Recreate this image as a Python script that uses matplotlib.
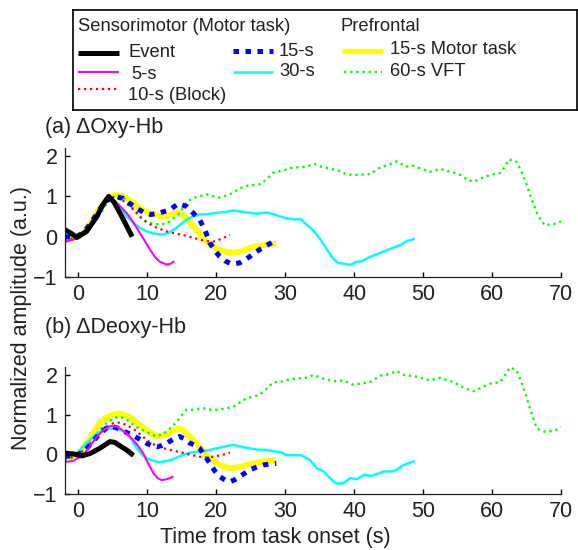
"""Normalized haemodynamic responses (Oxy-Hb / Deoxy-Hb) for several task lengths."""

import matplotlib
matplotlib.use("Agg")
import matplotlib.pyplot as plt

plt.rcParams["font.family"] = ["Liberation Sans", "DejaVu Sans"]

INK = "#231f20"

# ---- (a) dOxy-Hb --------------------------------------------------------
EVENT_A_T = [-2, -1, -0.2, 1.2, 2.7, 3.5, 4.4, 5.2, 6, 7, 7.8]
EVENT_A_V = [0.18, 0.08, -0.02, 0.13, 0.5, 0.78, 1.0, 0.85, 0.6, 0.27, 0.0]

S5_A_T = [-2, -0.7, 0.5, 1.5, 2.5, 3.5, 4.6, 5.8, 7, 8, 8.9, 9.7, 10.4, 11.1, 11.8, 12.8, 13.4, 13.9]
S5_A_V = [-0.13, -0.07, 0.05, 0.25, 0.5, 0.8, 0.98, 0.8, 0.59, 0.35, 0.1, -0.12, -0.32, -0.5, -0.62, -0.69, -0.67, -0.61]

S10_A_T = [-2, -1, 0, 1, 2, 3, 4, 5.2, 6.3, 7.5, 8.5, 9.4, 10.5, 11.4, 12.8, 14, 15.2, 16.5,
           17.6, 18.6, 19.6, 20.5, 21.3, 22]
S10_A_V = [-0.1, -0.06, 0.02, 0.15, 0.35, 0.6, 0.85, 1.0, 0.92, 0.75, 0.58, 0.42, 0.3, 0.22, 0.13,
           0.08, 0.04, -0.02, -0.07, -0.11, -0.12, -0.07, -0.01, 0.05]

S15_A_T = [-2, -1, 0, 1, 2, 3, 4, 5.3, 6.5, 7.5, 8.5, 9.5, 10.5, 11.8, 13.3, 14.5, 15.7, 16.7,
           17.6, 18.4, 19.1, 19.8, 20.5, 21.3, 22, 22.7, 23.4, 24.2, 24.9, 25.6, 26.3, 27.3, 28.3]
S15_A_V = [0.0, -0.02, 0.02, 0.15, 0.38, 0.65, 0.88, 1.0, 0.95, 0.82, 0.7, 0.6, 0.55, 0.59, 0.67,
           0.82, 0.75, 0.58, 0.42, 0.15, -0.16, -0.35, -0.49, -0.6, -0.66, -0.67, -0.65, -0.57,
           -0.49, -0.4, -0.32, -0.22, -0.12]

S30_A_T = [-2, -1, 0, 1, 2, 3, 4, 4.8, 5.8, 7, 8, 8.9, 9.9, 10.9, 12.3, 13.1, 13.8, 14.8, 15.7,
           16.6, 17.6, 18.8, 20, 21.2, 22.5, 23.7, 24.9, 26, 27.3, 28.5, 29.3, 30.2, 31.2, 32.2,
           33.1, 34.1, 34.9, 35.6, 36.3, 37, 37.7, 38.5, 39.4, 40.4, 41.1, 42.3, 43.8, 45.7,
           46.8, 47.6, 48.8]
S30_A_V = [0.05, 0.0, 0.0, 0.12, 0.35, 0.62, 0.85, 0.97, 0.8, 0.5, 0.35, 0.22, 0.13, 0.08, 0.05,
           0.1, 0.17, 0.3, 0.42, 0.5, 0.55, 0.56, 0.59, 0.61, 0.65, 0.62, 0.59, 0.57, 0.6, 0.55,
           0.5, 0.46, 0.43, 0.44, 0.3, 0.15, -0.02, -0.2, -0.38, -0.55, -0.65, -0.67, -0.7, -0.62,
           -0.61, -0.5, -0.4, -0.27, -0.2, -0.11, -0.05]

MOTOR_A_T = [-2, -1, 0, 1, 2, 3, 4, 5.3, 6.2, 7, 8, 8.9, 9.9, 10.9, 12.3, 13.3, 14.3, 15.2, 16,
             16.7, 17.6, 18.6, 19.5, 20.5, 21.5, 22.5, 23.7, 24.9, 26, 27.3, 28.7]
MOTOR_A_V = [0.0, -0.03, 0.0, 0.15, 0.4, 0.68, 0.9, 1.04, 1.02, 0.96, 0.84, 0.71, 0.62, 0.55, 0.5,
             0.53, 0.6, 0.55, 0.4, 0.26, 0.08, -0.12, -0.24, -0.32, -0.38, -0.4, -0.36, -0.28,
             -0.23, -0.2, -0.17]

VFT_A_T = [-2, -1, 0.25, 1.2, 2.2, 3.6, 4.6, 5.8, 6.7, 7.5, 8.2, 8.9, 9.6, 10.4, 11.8, 12.6, 13.3,
           14, 14.7, 15.7, 16.5, 17.5, 18.6, 19.6, 20.5, 21.5, 22.5, 23.4, 24.4, 25.3, 26.3,
           27.3, 28.3, 29.3, 30.2, 31.2, 32.2, 33.1, 34.3, 35.5, 36.7, 37.9, 38.8, 39.7, 41,
           42.3, 43.1, 43.8, 45, 46.2, 46.9, 47.6, 48.6, 49.8, 51, 52.5, 53.5, 54.4, 55.4, 56.3,
           57.3, 58.5, 59.7, 61.2, 61.8, 62.4, 63.1, 63.6, 64.3, 65, 65.7, 66.5, 67.1, 67.7,
           68.3, 68.9, 69.5, 70]
VFT_A_V = [-0.14, -0.08, 0.05, 0.18, 0.34, 0.67, 0.96, 1.02, 0.95, 0.79, 0.65, 0.5, 0.4, 0.34,
           0.3, 0.33, 0.38, 0.48, 0.59, 0.85, 0.95, 1.0, 1.05, 1.0, 0.97, 1.02, 1.09, 1.2, 1.26,
           1.28, 1.3, 1.42, 1.59, 1.63, 1.67, 1.72, 1.72, 1.74, 1.8, 1.72, 1.68, 1.63, 1.55, 1.53,
           1.54, 1.55, 1.64, 1.72, 1.78, 1.87, 1.8, 1.74, 1.76, 1.68, 1.61, 1.68, 1.63, 1.59,
           1.53, 1.43, 1.36, 1.45, 1.53, 1.58, 1.72, 1.91, 1.9, 1.85, 1.6, 1.3, 0.95, 0.59, 0.4,
           0.28, 0.3, 0.31, 0.34, 0.38]

# ---- (b) dDeoxy-Hb ------------------------------------------------------
EVENT_B_T = [-2, -0.7, 0.5, 1.7, 3.1, 4.6, 5.3, 5.8, 7, 8]
EVENT_B_V = [0.03, 0.01, -0.04, 0.02, 0.15, 0.32, 0.3, 0.24, 0.11, -0.03]

S5_B_T = [-2, -0.7, 0.7, 1.7, 2.7, 3.7, 4.6, 5.6, 6.5, 7.5, 8.5, 9.4, 10.2, 10.9, 11.5, 12.1, 13, 13.8]
S5_B_V = [-0.2, -0.16, -0.02, 0.2, 0.45, 0.62, 0.71, 0.7, 0.6, 0.45, 0.25, 0.03, -0.25, -0.48,
          -0.6, -0.65, -0.62, -0.56]

S10_B_T = [-2, -1, 0, 1, 2, 3, 4, 5, 6, 7, 8, 9, 9.9, 10.8, 11.8, 13, 14.7, 16, 17.6, 18.6,
           19.6, 20.8, 22]
S10_B_V = [-0.1, -0.07, 0.0, 0.12, 0.3, 0.5, 0.68, 0.78, 0.8, 0.74, 0.64, 0.5, 0.36, 0.26, 0.19,
           0.12, 0.06, 0.0, -0.06, -0.08, -0.06, -0.02, 0.04]

S15_B_T = [-2, -1, 0, 1, 2, 3, 4, 5, 6, 7, 8, 9, 9.9, 10.6, 11.4, 12.1, 12.8, 13.8, 14.7, 15.5,
           16.2, 16.9, 17.6, 18.4, 19.1, 19.8, 20.5, 21.3, 22, 22.7, 23.4, 24.2, 24.9, 25.9,
           26.8, 27.8, 28.7]
S15_B_V = [-0.05, -0.04, 0.0, 0.1, 0.3, 0.5, 0.65, 0.7, 0.64, 0.55, 0.47, 0.37, 0.28, 0.22, 0.19,
           0.22, 0.28, 0.38, 0.45, 0.38, 0.28, 0.23, 0.15, -0.05, -0.23, -0.42, -0.56, -0.65,
           -0.69, -0.64, -0.56, -0.47, -0.39, -0.32, -0.27, -0.24, -0.23]

S30_B_T = [-2, -1, 0, 0.7, 1.7, 2.7, 4.1, 5.6, 6.3, 7, 7.8, 8.5, 9.2, 9.9, 10.8, 11.8, 12.8, 13.8,
           14.8, 15.7, 16.6, 17.6, 18.8, 20, 21.3, 22.5, 23.7, 24.9, 26, 27.3, 28.5, 29.3, 30.2,
           31.2, 32.2, 33.6, 34.6, 35.6, 36.4, 37.3, 38.3, 38.9, 39.4, 40.4, 41.4, 42.6, 44.3,
           45.7, 46.3, 46.9, 48, 48.8]
S30_B_V = [0.0, 0.0, 0.05, 0.19, 0.37, 0.53, 0.64, 0.65, 0.6, 0.53, 0.35, 0.15, 0.0, -0.1, -0.16,
           -0.2, -0.17, -0.12, -0.04, 0.02, 0.05, 0.07, 0.1, 0.15, 0.2, 0.24, 0.19, 0.15, 0.12,
           0.11, 0.07, 0.06, -0.02, -0.02, -0.02, -0.14, -0.35, -0.43, -0.58, -0.73, -0.73,
           -0.67, -0.6, -0.63, -0.52, -0.54, -0.43, -0.43, -0.38, -0.29, -0.22, -0.17]

MOTOR_B_T = [-2, -1, 0, 1.2, 2.2, 3.1, 4.1, 5.1, 6, 7, 8, 8.9, 9.9, 10.6, 11.4, 12.1, 12.8, 13.8,
             14.7, 15.7, 16.7, 17.6, 18.6, 19.5, 20.5, 21.5, 22.5, 23.4, 24.4, 25.6, 26.8, 27.8, 28.7]
MOTOR_B_V = [-0.1, -0.07, 0.02, 0.28, 0.55, 0.78, 0.93, 1.0, 1.03, 0.97, 0.87, 0.74, 0.61, 0.52,
             0.46, 0.47, 0.5, 0.6, 0.66, 0.53, 0.36, 0.18, -0.02, -0.15, -0.27, -0.33, -0.35,
             -0.32, -0.27, -0.22, -0.18, -0.16, -0.14]

VFT_B_T = [-2, -1, 0, 1.2, 2.2, 3.1, 4.1, 5.1, 6, 7, 8, 8.9, 9.9, 10.6, 11.4, 12.1, 12.8, 13.6,
           14.3, 15, 15.7, 16.6, 17.6, 18.6, 19.3, 20, 21.2, 22.5, 23.4, 24.4, 25.3, 26.3, 27.3,
           28.3, 29.3, 30.2, 31.2, 32.2, 33.1, 34.1, 35.6, 37, 38.5, 39.7, 41, 42.3, 43.1, 43.8,
           45, 46.2, 46.9, 47.6, 48.6, 49.8, 51, 52.5, 53.5, 54.4, 55.4, 56.3, 57.3, 58.5, 59.7,
           61.2, 61.9, 62.6, 63.1, 63.6, 64.3, 65, 65.7, 66.5, 67.1, 67.7, 68.3, 68.9, 69.5, 70]
VFT_B_V = [-0.15, -0.1, 0.0, 0.19, 0.42, 0.61, 0.78, 0.91, 0.95, 0.88, 0.74, 0.64, 0.57, 0.5,
           0.45, 0.5, 0.57, 0.7, 0.82, 0.98, 1.12, 1.12, 1.15, 1.16, 1.12, 1.12, 1.15, 1.2, 1.3,
           1.41, 1.45, 1.5, 1.65, 1.82, 1.82, 1.87, 1.9, 1.92, 1.93, 2.0, 1.9, 1.84, 1.86, 1.76,
           1.78, 1.82, 1.9, 1.98, 2.02, 2.1, 2.02, 1.98, 1.98, 1.92, 1.86, 1.93, 1.87, 1.82,
           1.72, 1.65, 1.59, 1.68, 1.78, 1.82, 2.0, 2.19, 2.15, 2.1, 1.8, 1.44, 1.05, 0.65, 0.6,
           0.57, 0.58, 0.59, 0.63, 0.69]

X_TICKS = [0, 10, 20, 30, 40, 50, 60, 70]
Y_TICKS = [-1, 0, 1, 2]
PANEL_TITLES = ["(a) \u0394Oxy-Hb", "(b) \u0394Deoxy-Hb"]

# Line styles; drawing order = list order (later on top).
STYLES = {
    "motor": dict(color="#ffff00", lw=4.3, ls="-"),
    "vft":   dict(color="#00ff00", lw=1.7, ls=(0, (1, 1.6))),
    "s30":   dict(color="#00ffff", lw=1.8, ls="-"),
    "s10":   dict(color="#ff0000", lw=1.6, ls=(0, (1, 1.7))),
    "s15":   dict(color="#0000ff", lw=3.6, ls=(0, (1.1, 1.3))),
    "s5":    dict(color="#ff00ff", lw=1.5, ls="-"),
    "event": dict(color="#000000", lw=3.6, ls="-"),
}

PANELS = [
    {"motor": (MOTOR_A_T, MOTOR_A_V), "vft": (VFT_A_T, VFT_A_V), "s30": (S30_A_T, S30_A_V),
     "s10": (S10_A_T, S10_A_V), "s15": (S15_A_T, S15_A_V), "s5": (S5_A_T, S5_A_V),
     "event": (EVENT_A_T, EVENT_A_V)},
    {"motor": (MOTOR_B_T, MOTOR_B_V), "vft": (VFT_B_T, VFT_B_V), "s30": (S30_B_T, S30_B_V),
     "s10": (S10_B_T, S10_B_V), "s15": (S15_B_T, S15_B_V), "s5": (S5_B_T, S5_B_V),
     "event": (EVENT_B_T, EVENT_B_V)},
]

W, H = 578, 550
fig = plt.figure(figsize=(W / 100, H / 100), dpi=100)


def px_box(left, top, right, bottom):
    """Pixel box (from top-left) -> figure fraction rect."""
    return [left / W, 1 - bottom / H, (right - left) / W, (bottom - top) / H]


axes = [fig.add_axes(px_box(64.5, 148, 561, 277)), fig.add_axes(px_box(64.5, 367, 561, 494))]

for ax, series, title, title_y in zip(axes, PANELS, PANEL_TITLES, [127, 328]):
    for key, st in STYLES.items():
        t, v = series[key]
        ax.plot(t, v, color=st["color"], lw=st["lw"], linestyle=st["ls"],
                solid_capstyle="butt", dash_capstyle="butt", solid_joinstyle="round")
    ax.set_xlim(-2, 70)
    ax.set_ylim(-1, 2.2)
    ax.set_xticks(X_TICKS)
    ax.set_yticks(Y_TICKS)
    ax.set_yticklabels(["\u22121", "0", "1", "2"])
    ax.spines[["top", "right"]].set_visible(False)
    for s in ("left", "bottom"):
        ax.spines[s].set_linewidth(0.9)
        ax.spines[s].set_color(INK)
    ax.tick_params(direction="in", length=3.5, width=1.0, color="black",
                   labelsize=15.5, labelcolor=INK, pad=5)
    fig.text(45 / W, 1 - title_y / H, title, fontsize=15.5, color=INK, va="center", ha="left")

fig.text(22 / W, 1 - 318 / H, "Normalized amplitude (a.u.)", rotation=90,
         fontsize=15.5, color=INK, va="center", ha="center")
fig.text(275 / W, 1 - 538 / H, "Time from task onset (s)",
         fontsize=15.5, color=INK, va="center", ha="center")

# ---- legend box (hand laid out, like the original) ----------------------
lax = fig.add_axes(px_box(72.5, 10, 577, 109.5))
lax.set_xlim(72.5, 577)
lax.set_ylim(109.5, 10)
lax.set_xticks([])
lax.set_yticks([])
for s in lax.spines.values():
    s.set_linewidth(1.2)
    s.set_color("black")

LEG_HEADERS = [("Sensorimotor (Motor task)", 78), ("Prefrontal", 341)]
# key, label, line x0, x1, line y, text x, text y
LEG_ROWS = [
    ("event", "Event", 78, 119, 52.7, 129, 52.7),
    ("s5", "5-s", 78, 119, 72, 131, 74.5),
    ("s10", "10-s (Block)", 78, 119, 89, 128, 96),
    ("s15", "15-s", 233, 273, 51, 279, 52),
    ("s30", "30-s", 233, 273, 72, 279, 71),
    ("motor", "15-s Motor task", 342, 383, 50.7, 390, 50),
    ("vft", "60-s VFT", 344, 382, 72, 390, 72),
]
for text, x in LEG_HEADERS:
    lax.text(x, 26.7, text, fontsize=13.2, color=INK, va="center", ha="left")
for key, label, x0, x1, ly, tx, ty in LEG_ROWS:
    st = STYLES[key]
    lax.plot([x0, x1], [ly, ly], color=st["color"], lw=min(st["lw"], 3.8),
             linestyle=st["ls"], solid_capstyle="butt", dash_capstyle="butt")
    lax.text(tx, ty, label, fontsize=13.2, color=INK, va="center", ha="left")

fig.savefig("out.png", dpi=100)
